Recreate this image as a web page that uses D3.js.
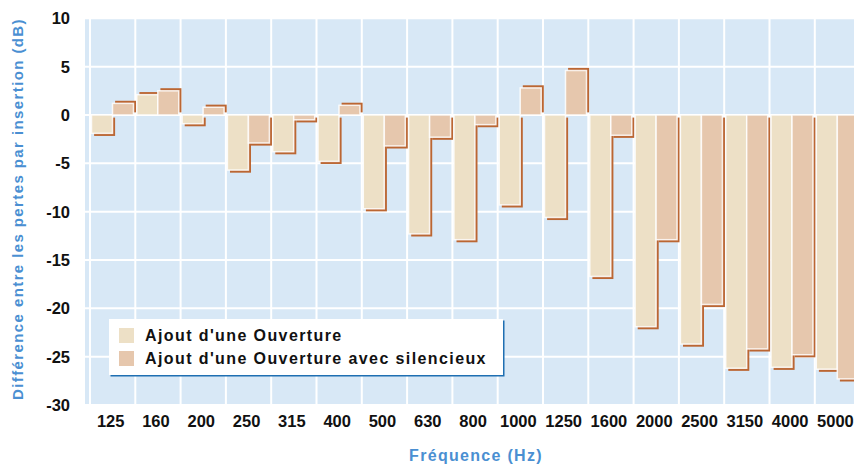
<!doctype html>
<html>
<head>
	<meta charset="utf-8">
	<title>Différence des pertes par insertion</title>
	<script src="https://cdnjs.cloudflare.com/ajax/libs/d3/7.8.5/d3.min.js"></script>
	<style>
		body { margin: 0; background: #fff; }
		.tick-label { font-family: "Liberation Sans Narrow", "Arial Narrow", "Liberation Sans", sans-serif; font-weight: bold; font-size: 16.5px; fill: #111; }
		.axis-title { font-family: "Liberation Sans", Arial, sans-serif; font-weight: bold; fill: #4a8fd2; }
		.legend-text { font-family: "Liberation Sans", Arial, sans-serif; font-weight: bold; font-size: 16px; fill: #111; letter-spacing: 1.4px; }
	</style>
</head>
<body>
<script>
	// data
	var frequencies = ['125', '160', '200', '250', '315', '400', '500', '630', '800', '1000', '1250', '1600', '2000', '2500', '3150', '4000', '5000'];
	var ouverture = [-1.9, 2.1, -0.9, -5.7, -3.8, -4.8, -9.7, -12.3, -12.9, -9.3, -10.6, -16.7, -21.9, -23.7, -26.2, -26.1, -26.3];
	var ouvertureSilencieux = [1.2, 2.5, 0.8, -2.9, -0.5, 1.0, -3.2, -2.3, -1.0, 2.8, 4.6, -2.1, -12.9, -19.6, -24.2, -24.8, -27.3];
	var seriesNames = ["Ajout d'une Ouverture", "Ajout d'une Ouverture avec silencieux"];
	var seriesColors = ['#ede0c6', '#e6c7ad'];
	var yTicks = [10, 5, 0, -5, -10, -15, -20, -25, -30];

	var width = 854, height = 465;
	var svg = d3.select('body').append('svg')
		.attr('width', width)
		.attr('height', height);

	var y = d3.scaleLinear().domain([-30, 10]).range([405, 18.3]);
	var x = d3.scaleBand().domain(frequencies).range([90, 90 + 17 * 45.3]).padding(0);
	var xSub = d3.scaleBand().domain([0, 1]).range([1.5, 43.5]).padding(0);

	// plot background
	svg.append('rect')
		.attr('x', 85).attr('y', y(10))
		.attr('width', width - 85).attr('height', y(-30) - y(10))
		.attr('fill', '#d8e8f6');

	// grid
	var grid = svg.append('g').attr('stroke', '#fff').attr('stroke-width', 2);
	grid.selectAll('line.h')
		.data(yTicks)
		.enter().append('line')
		.attr('x1', 85).attr('x2', width)
		.attr('y1', function (d) { return y(d); })
		.attr('y2', function (d) { return y(d); });
	grid.selectAll('line.v')
		.data(frequencies)
		.enter().append('line')
		.attr('x1', function (d) { return x(d); })
		.attr('x2', function (d) { return x(d); })
		.attr('y1', y(10)).attr('y2', y(-30));

	// bars
	var rows = frequencies.map(function (f, i) {
		return [{ f: f, s: 0, v: ouverture[i] }, { f: f, s: 1, v: ouvertureSilencieux[i] }];
	});
	var flat = d3.merge(rows);

	var bars = svg.append('g');
	var groups = bars.selectAll('g')
		.data(flat)
		.enter().append('g');

	// brown shadow, offset right and away from zero
	groups.append('rect')
		.attr('x', function (d) { return x(d.f) + xSub(d.s) + 2.6; })
		.attr('y', function (d) { return d.v >= 0 ? y(d.v) - 2.6 : y(0) + 2.6; })
		.attr('width', xSub.bandwidth())
		.attr('height', function (d) { return Math.abs(y(d.v) - y(0)); })
		.attr('fill', '#bb6633');

	groups.append('rect')
		.attr('x', function (d) { return x(d.f) + xSub(d.s); })
		.attr('y', function (d) { return Math.min(y(d.v), y(0)); })
		.attr('width', xSub.bandwidth())
		.attr('height', function (d) { return Math.abs(y(d.v) - y(0)); })
		.attr('fill', function (d) { return seriesColors[d.s]; })
		.attr('stroke', 'rgba(255,255,255,0.85)')
		.attr('stroke-width', 1.5);

	// y tick labels
	svg.append('g').selectAll('text')
		.data(yTicks)
		.enter().append('text')
		.attr('class', 'tick-label')
		.attr('x', 70)
		.attr('y', function (d) { return y(d) + 6; })
		.attr('text-anchor', 'end')
		.text(function (d) { return d; });

	// x tick labels
	svg.append('g').selectAll('text')
		.data(frequencies)
		.enter().append('text')
		.attr('class', 'tick-label')
		.attr('x', function (d) { return x(d) + x.bandwidth() / 2 - 2; })
		.attr('y', 427)
		.attr('text-anchor', 'middle')
		.text(function (d) { return d; });

	// axis titles
	svg.append('text')
		.attr('class', 'axis-title')
		.attr('transform', 'translate(23,209) rotate(-90)')
		.attr('text-anchor', 'middle')
		.style('font-size', '15px')
		.style('letter-spacing', '1.4px')
		.text('Différence entre les pertes par insertion (dB)');

	svg.append('text')
		.attr('class', 'axis-title')
		.attr('x', 476).attr('y', 461)
		.attr('text-anchor', 'middle')
		.style('font-size', '16px')
		.style('letter-spacing', '1.3px')
		.text('Fréquence (Hz)');

	// legend
	var legend = svg.append('g').attr('transform', 'translate(109,319)');
	legend.append('rect')
		.attr('x', 1.5).attr('y', 1.5)
		.attr('width', 394).attr('height', 56)
		.attr('fill', '#1f6fb2');
	legend.append('rect')
		.attr('width', 394).attr('height', 56)
		.attr('fill', '#fff');
	var items = legend.selectAll('g.item')
		.data(seriesNames)
		.enter().append('g')
		.attr('transform', function (d, i) { return 'translate(10,' + (9 + i * 23) + ')'; });
	items.append('rect')
		.attr('width', 15).attr('height', 15)
		.attr('fill', function (d, i) { return seriesColors[i]; });
	items.append('text')
		.attr('class', 'legend-text')
		.attr('x', 26).attr('y', 13)
		.text(function (d) { return d; });
</script>
</body>
</html>
